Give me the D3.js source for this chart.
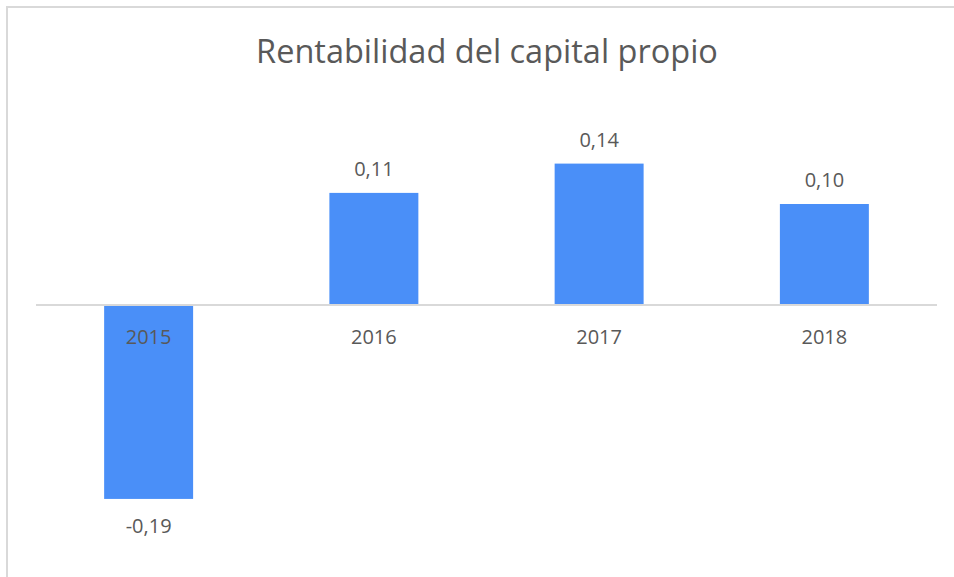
<!DOCTYPE html>
<html>
<head>
<meta charset="utf-8">
<script src="https://cdn.jsdelivr.net/npm/d3@7"></script>
<style>
  body { margin: 0; background: #fff; }
  svg { display: block; font-family: "Open Sans", sans-serif; }
</style>
</head>
<body>
<svg width="954" height="577"></svg>
<script>
const width = 954;
const height = 577;
const years = ["2015", "2016", "2017", "2018"];
const values = [-0.192, 0.111, 0.14, 0.1];
const title = "Rentabilidad del capital propio";

const svg = d3.select("svg");
const textColor = "#595959";
const barColor = "#4a8ff8";
const lineColor = "#d9d9d9";

// chart frame (only left and top edges are visible in the crop)
svg.append("path")
    .attr("d", "M7,577 V7 H954")
    .attr("fill", "none")
    .attr("stroke", lineColor)
    .attr("stroke-width", 2);

svg.append("text")
    .attr("x", 487)
    .attr("y", 63)
    .attr("text-anchor", "middle")
    .attr("fill", textColor)
    .style("font-size", "32.5px")
    .text(title);

const x = d3.scaleBand()
    .domain(years)
    .range([36, 937])
    .paddingInner(0.605)
    .paddingOuter(0.3025);

const y = d3.scaleLinear()
    .domain([-0.2, 0.2])
    .range([305 + 202, 305 - 202]);

const fmt = (v) => d3.format(".2f")(v).replace(".", ",").replace("−", "-");

svg.append("g")
    .selectAll("rect")
    .data(values)
    .join("rect")
    .attr("x", (d, i) => x(years[i]))
    .attr("y", (d) => y(Math.max(0, d)))
    .attr("width", x.bandwidth())
    .attr("height", (d) => Math.abs(y(d) - y(0)))
    .attr("fill", barColor);

// zero line
svg.append("line")
    .attr("x1", 36)
    .attr("x2", 937)
    .attr("y1", y(0))
    .attr("y2", y(0))
    .attr("stroke", lineColor)
    .attr("stroke-width", 2);

// category labels
svg.append("g")
    .selectAll("text")
    .data(years)
    .join("text")
    .attr("x", (d) => x(d) + x.bandwidth() / 2)
    .attr("y", y(0) + 39)
    .attr("text-anchor", "middle")
    .attr("fill", textColor)
    .style("font-size", "20px")
    .text((d) => d);

// value labels
svg.append("g")
    .selectAll("text")
    .data(values)
    .join("text")
    .attr("x", (d, i) => x(years[i]) + x.bandwidth() / 2)
    .attr("y", (d) => d >= 0 ? y(d) - 17 : y(d) + 34)
    .attr("text-anchor", "middle")
    .attr("fill", textColor)
    .style("font-size", "20px")
    .text((d) => fmt(d));
</script>
</body>
</html>
